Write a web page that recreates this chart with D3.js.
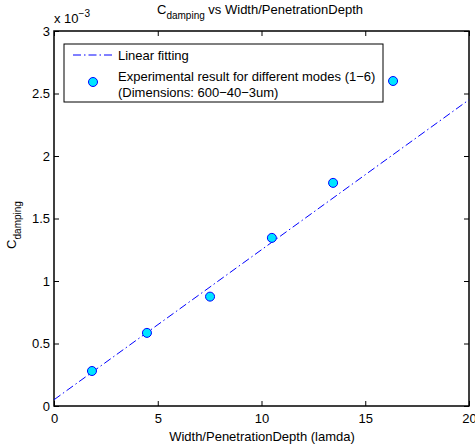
<!DOCTYPE html>
<html>
<head>
<meta charset="utf-8">
<script src="https://cdn.jsdelivr.net/npm/d3@7"></script>
<style>
  body { margin: 0; background: #fff; }
  svg { font-family: "Liberation Sans", Arial, sans-serif; }
</style>
</head>
<body>
<svg id="chart" width="475" height="447"></svg>
<script>
// Data (y values in units of 1e-3)
const modeX = [1.83, 4.48, 7.52, 10.5, 13.45, 16.34]
const modeY = [0.28, 0.585, 0.875, 1.345, 1.785, 2.6]
// Linear fit end points
const fitX = [0, 20]
const fitY = [0.05, 2.45]
const xTicks = [0, 5, 10, 15, 20]
const yTicks = [0, 0.5, 1, 1.5, 2, 2.5, 3]

const margin = {top: 31, right: 6, bottom: 41, left: 54}
const width = 475, height = 447
const fs = 13, sub = 10

const svg = d3.select('#chart')

const x = d3.scaleLinear().domain([0, 20]).range([margin.left, width - margin.right])
const y = d3.scaleLinear().domain([0, 3]).range([height - margin.bottom, margin.top])

// plot box
svg.append('rect')
  .attr('x', x(0)).attr('y', y(3))
  .attr('width', x(20) - x(0)).attr('height', y(0) - y(3))
  .attr('fill', 'white')

// axes, ticks pointing inward on all four sides
const tick = 5
svg.append('g')
  .attr('transform', `translate(0,${y(0)})`)
  .call(d3.axisBottom(x).tickValues(xTicks).tickSize(-tick).tickPadding(8))
svg.append('g')
  .attr('transform', `translate(0,${y(3)})`)
  .call(d3.axisTop(x).tickValues(xTicks).tickSize(-tick).tickFormat(''))
svg.append('g')
  .attr('transform', `translate(${x(0)},0)`)
  .call(d3.axisLeft(y).tickValues(yTicks).tickSize(-tick).tickPadding(4).tickFormat(d => String(d)))
svg.append('g')
  .attr('transform', `translate(${x(20)},0)`)
  .call(d3.axisRight(y).tickValues(yTicks).tickSize(-tick).tickFormat(''))

svg.selectAll('.domain').remove()
svg.selectAll('.tick line').attr('stroke', 'black').attr('stroke-width', 1)
svg.selectAll('.tick text').attr('font-size', fs).attr('fill', 'black')
  .attr('font-family', '"Liberation Sans", Arial, sans-serif')

// box on top
svg.append('rect')
  .attr('x', x(0)).attr('y', y(3))
  .attr('width', x(20) - x(0)).attr('height', y(0) - y(3))
  .attr('fill', 'none').attr('stroke', 'black').attr('stroke-width', 1.5)

// linear fit
const line = d3.line().x(d => x(d[0])).y(d => y(d[1]))
svg.append('path')
  .datum(fitX.map((v, i) => [v, fitY[i]]))
  .attr('d', line)
  .attr('fill', 'none')
  .attr('stroke', '#0000ff')
  .attr('stroke-width', 1)
  .attr('stroke-dasharray', '8,3,1.5,3')

// experimental points
svg.selectAll('circle.pt')
  .data(modeX.map((v, i) => [v, modeY[i]]))
  .enter()
  .append('circle')
  .attr('class', 'pt')
  .attr('cx', d => x(d[0]))
  .attr('cy', d => y(d[1]))
  .attr('r', 4.5)
  .attr('fill', '#00e5ff')
  .attr('stroke', '#0000ff')
  .attr('stroke-width', 1)

// exponent label
const ex = svg.append('text').attr('x', 54).attr('y', 23).attr('font-size', fs)
ex.append('tspan').text('x 10')
ex.append('tspan').attr('dy', -6).attr('font-size', sub).text('\u22123')

// title
const title = svg.append('text').attr('x', 260).attr('y', 14)
  .attr('text-anchor', 'middle').attr('font-size', fs)
title.append('tspan').text('C')
title.append('tspan').attr('dy', 5).attr('font-size', sub).text('damping')
title.append('tspan').attr('dy', -5).text(' vs Width/PenetrationDepth')

// x label
svg.append('text').attr('x', 262).attr('y', 441)
  .attr('text-anchor', 'middle').attr('font-size', fs)
  .text('Width/PenetrationDepth (lamda)')

// y label
const yl = svg.append('text')
  .attr('transform', 'translate(16,225) rotate(-90)')
  .attr('text-anchor', 'middle').attr('font-size', fs)
yl.append('tspan').text('C')
yl.append('tspan').attr('dy', 5).attr('font-size', sub).text('damping')

// legend
const lg = svg.append('g')
lg.append('rect')
  .attr('x', 64).attr('y', 44).attr('width', 319).attr('height', 58)
  .attr('fill', 'white').attr('stroke', 'black').attr('stroke-width', 1)
lg.append('line')
  .attr('x1', 73).attr('x2', 113).attr('y1', 55).attr('y2', 55)
  .attr('stroke', '#0000ff').attr('stroke-width', 1)
  .attr('stroke-dasharray', '8,3,1.5,3')
lg.append('text').attr('x', 118).attr('y', 60).attr('font-size', fs)
  .text('Linear fitting')
lg.append('circle').attr('cx', 93).attr('cy', 82).attr('r', 4.5)
  .attr('fill', '#00e5ff').attr('stroke', '#0000ff')
lg.append('text').attr('x', 118).attr('y', 81).attr('font-size', fs)
  .text('Experimental result for different modes (1\u22126)')
lg.append('text').attr('x', 118).attr('y', 97).attr('font-size', fs)
  .text('(Dimensions: 600\u221240\u22123um)')
</script>
</body>
</html>
